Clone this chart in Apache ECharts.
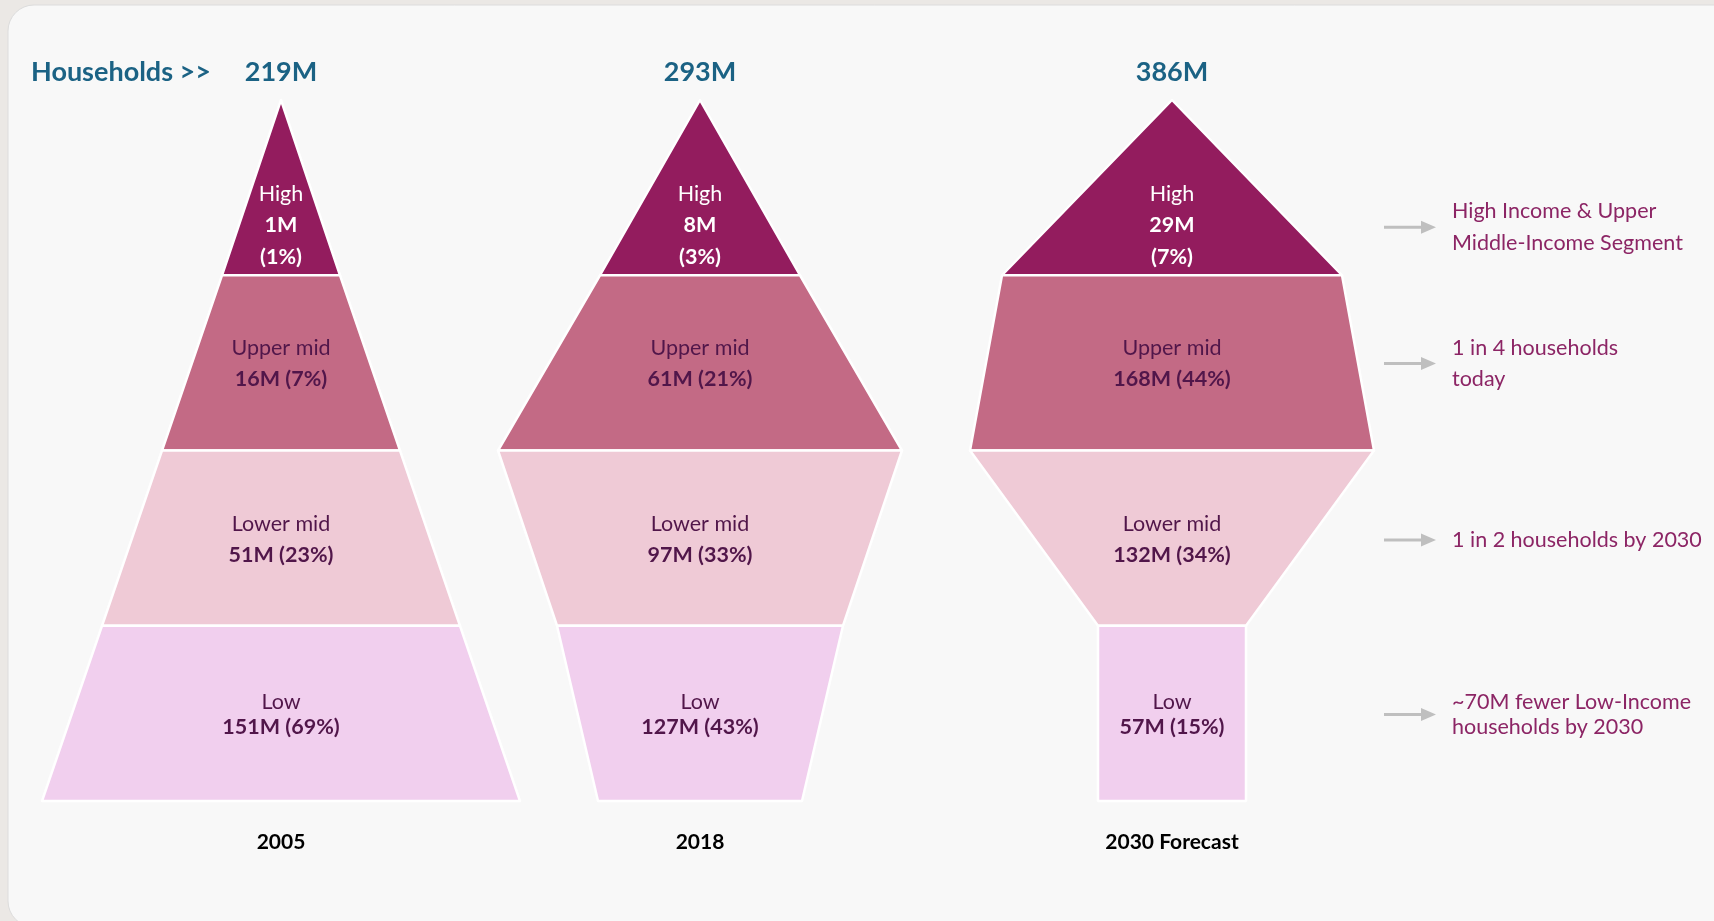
<!DOCTYPE html>
<html>
<head>
<meta charset="utf-8">
<title>Household income pyramids</title>
<script src="https://cdn.jsdelivr.net/npm/echarts@6/dist/echarts.min.js"></script>
<style>
  html, body { margin: 0; padding: 0; background: #ebe8e5; }
  #chart { width: 1714px; height: 921px; }
</style>
</head>
<body>
<div id="chart"></div>
<script>
// ===== data =====
const years = ['2005', '2018', '2030 Forecast']
const segments = ['High', 'Upper mid', 'Lower mid', 'Low']
// households per segment, millions
const households = [
  [1, 16, 51, 151],
  [8, 61, 97, 127],
  [29, 168, 132, 57]
]
// share of all households, %
const shares = [
  [1, 7, 23, 69],
  [3, 21, 33, 43],
  [7, 44, 34, 15]
]
// half width of each shape at the band edges (top of High -> bottom of Low)
const halfWidths = [
  [0, 59, 119, 179, 239],
  [0, 100, 202, 143, 102],
  [0, 170, 202, 74, 74]
]
const notes = [
  'High Income & Upper\nMiddle-Income Segment',
  '1 in 4 households\ntoday',
  '1 in 2 households by 2030',
  '~70M fewer Low-Income\nhouseholds by 2030'
]

// ===== layout / style =====
const FONT = 'Lato, "Open Sans", sans-serif'
const centerX = [281, 700, 1172]
const plotTop = 100
const plotH = 701
const bandH = plotH / 4
const span = 250
const bandColors = ['#931c5e', '#c36a85', '#efcad6', '#f1cfee']
const labelAt = [0.715, 0.504, 0.51, 0.506]   // label centre inside each band
const noteShift = [2, 0, 0, 0]
const lineH = [31.5, 31.5, 31, 25]
const dark = '#51164a'
const teal = '#1b6284'
const noteColor = '#8c2565'

const chart = echarts.init(document.getElementById('chart'))

const grids = [], xAxes = [], yAxes = [], series = []
years.forEach((year, i) => {
  grids.push({ left: centerX[i] - span, width: span * 2, top: plotTop, height: plotH })
  xAxes.push({
    type: 'value', gridIndex: i, min: -span, max: span,
    name: year, nameLocation: 'middle', nameGap: 31,
    nameTextStyle: { fontFamily: FONT, fontSize: 21, fontWeight: 'bold', color: '#000' },
    axisLine: { show: false }, axisTick: { show: false },
    axisLabel: { show: false }, splitLine: { show: false }
  })
  yAxes.push({ type: 'value', gridIndex: i, min: 0, max: 4, inverse: true, show: false })

  const total = households[i].reduce((a, b) => a + b, 0)
  series.push({
    type: 'custom',
    name: year,
    xAxisIndex: i,
    yAxisIndex: i,
    silent: true,
    data: segments.map((s, b) => [b, halfWidths[i][b], halfWidths[i][b + 1], households[i][b], shares[i][b]]),
    renderItem: (params, api) => {
      const b = api.value(0)
      const w0 = api.value(1)
      const w1 = api.value(2)
      const pts = [
        api.coord([-w0, b]), api.coord([w0, b]),
        api.coord([w1, b + 1]), api.coord([-w1, b + 1])
      ]
      const mid = api.coord([0, b + labelAt[b]])
      const hh = api.value(3) + 'M'
      const pct = '(' + api.value(4) + '%)'
      const isTop = b === 0
      const txt = isTop
        ? '{n|' + segments[b] + '}\n{v|' + hh + '}\n{v|' + pct + '}'
        : '{n|' + segments[b] + '}\n{v|' + hh + ' ' + pct + '}'
      const col = isTop ? '#ffffff' : dark
      const children = [
        {
          type: 'polygon',
          shape: { points: pts },
          style: { fill: bandColors[b], stroke: '#ffffff', lineWidth: 2.5, lineJoin: 'round' }
        },
        {
          type: 'text',
          x: mid[0], y: mid[1],
          style: {
            text: txt,
            align: 'center',
            verticalAlign: 'middle',
            rich: {
              n: { fontFamily: FONT, fontSize: 21.5, fontWeight: 'normal', fill: col, lineHeight: lineH[b] },
              v: { fontFamily: FONT, fontSize: 21.5, fontWeight: 'bold', fill: col, lineHeight: lineH[b] }
            }
          }
        }
      ]
      // household total above the apex
      if (isTop) {
        const apex = api.coord([0, 0])
        children.push({
          type: 'text',
          x: apex[0], y: 72,
          style: {
            text: total + 'M', align: 'center', verticalAlign: 'middle',
            fill: teal, font: 'bold 27px ' + FONT
          }
        })
      }
      return { type: 'group', children }
    }
  })
})

// right hand notes, one per band
const noteGraphics = []
notes.forEach((t, b) => {
  const y = plotTop + (b + labelAt[b]) * bandH + noteShift[b]
  noteGraphics.push(
    { type: 'line', shape: { x1: 1384, y1: y, x2: 1424, y2: y }, style: { stroke: '#bfbfbf', lineWidth: 3 }, z: 5 },
    { type: 'polygon', shape: { points: [[1421, y - 6.5], [1436, y], [1421, y + 6.5]] }, style: { fill: '#bfbfbf' }, z: 5 },
    {
      type: 'text', x: 1452, y: y, z: 5,
      style: {
        text: t, fill: noteColor, font: '21.5px ' + FONT,
        verticalAlign: 'middle', align: 'left', lineHeight: lineH[b]
      }
    }
  )
})

chart.setOption({
  backgroundColor: '#ebe8e5',
  animation: false,
  grid: grids,
  xAxis: xAxes,
  yAxis: yAxes,
  graphic: [
    {
      type: 'rect', z: -10,
      shape: { x: 8, y: 5, width: 1800, height: 922, r: 26 },
      style: { fill: '#f8f8f8', stroke: '#dcdcdc', lineWidth: 1 }
    },
    {
      type: 'text', x: 31, y: 72, z: 5,
      style: { text: 'Households >>', fill: teal, font: 'bold 27px ' + FONT, verticalAlign: 'middle' }
    },
    ...noteGraphics
  ],
  series
})
</script>
</body>
</html>
